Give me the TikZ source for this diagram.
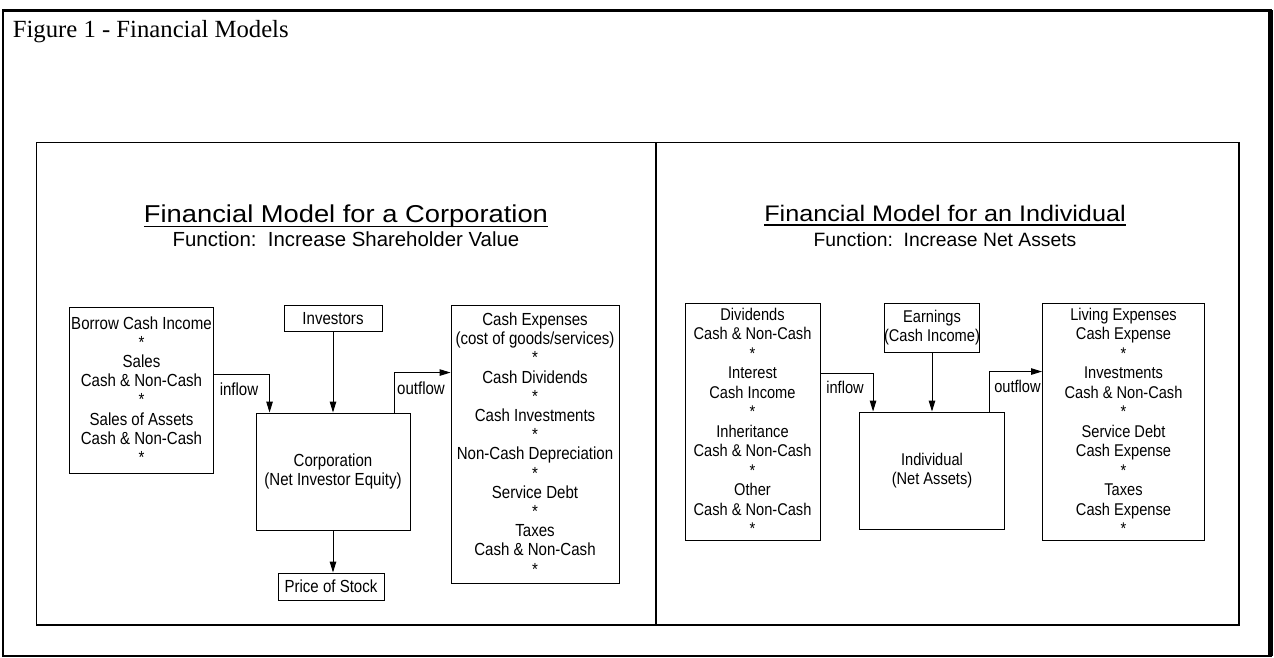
\documentclass[tikz,border=0pt]{standalone}
\usepackage{fontspec}
\setmainfont{Liberation Serif}
\newfontfamily\bodyfont[FakeStretch=0.86]{Liberation Sans}
\newfontfamily\headfont[FakeStretch=1.12]{Liberation Sans}
\newfontfamily\subfont{Liberation Sans}
\usetikzlibrary{arrows.meta}

\begin{document}
\begin{tikzpicture}[x=1pt,y=-1pt,
  box/.style={draw, line width=0.9pt, inner sep=0pt, align=center, anchor=center},
  lfont/.style={font={\bodyfont\fontsize{17.5}{19.2}\selectfont}},
  rfont/.style={font={\bodyfont\fontsize{17}{19.5}\selectfont}},
  flow/.style={line width=1pt, -{Triangle[length=11pt,width=6.5pt]}},
  lbl/.style={inner sep=0pt, anchor=center},
  head/.style={inner sep=0pt, anchor=base},
]
\useasboundingbox (0,0) rectangle (1274,658);
\fill[white] (0,0) rectangle (1274,658);

% outer frame and caption
\draw[line width=2.5pt] (3,10.5) rectangle (1270.5,656);
\draw[line width=4.5pt] (1270.5,10.5) -- (1270.5,656);
\node[inner sep=0pt, anchor=base west, font=\fontsize{24.7}{28}\selectfont] (caption) at (12.7,37.3) {Figure 1 - Financial Models};

% two panels
\draw[line width=1.6pt] (36.5,142.5) rectangle (1239,625);
\draw[line width=1.6pt] (656,142.5) -- (656,625);

% ---------- corporation ----------
\node[head, font={\headfont\fontsize{24.4}{28}\selectfont}] (tL) at (346,222.7) {Financial Model for a Corporation};
\draw[line width=1.4pt] ([yshift=-4pt]tL.base west) -- ([yshift=-4pt]tL.base east);
\node[head, font={\subfont\fontsize{20.4}{24}\selectfont}] (sL) at (346,246) {Function:\ \ Increase Shareholder Value};

\node[box, lfont, minimum width=144pt, minimum height=166pt] (borrow) at (141.5,390)
  {Borrow Cash Income\\*\\Sales\\Cash \& Non-Cash\\*\\Sales of Assets\\Cash \& Non-Cash\\*};
\node[box, lfont, minimum width=98pt, minimum height=26pt] (inv) at (333,318.5) {Investors};
\node[box, lfont, minimum width=154pt, minimum height=117pt] (corp) at (333,471.5)
  {Corporation\\(Net Investor Equity)};
\node[box, lfont, minimum width=106pt, minimum height=27pt] (price) at (331,586.5) {Price of Stock};
\node[box, lfont, minimum width=168pt, minimum height=278pt] (cash) at (535,444)
  {Cash Expenses\\(cost of goods/services)\\*\\Cash Dividends\\*\\Cash Investments\\*\\Non-Cash Depreciation\\*\\Service Debt\\*\\Taxes\\Cash \& Non-Cash\\*};

\draw[flow] ([yshift=-68pt]borrow.north east) -| ([xshift=14pt]corp.north west);
\draw[flow] (inv.south) -- (corp.north);
\draw[flow] (corp.south) -- (corp.south |- price.north);
\draw[flow] ([xshift=-16pt]corp.north east) |- ([yshift=-68pt]cash.north west);
\node[lbl, lfont] (inL) at (239,389) {inflow};
\node[lbl, lfont] (outL) at (421,388) {outflow};

% ---------- individual ----------
\node[head, font={\headfont\fontsize{22.5}{26}\selectfont}] (tR) at (945,221) {Financial Model for an Individual};
\draw[line width=1.4pt] ([yshift=-4pt]tR.base west) -- ([yshift=-4pt]tR.base east);
\node[head, font={\subfont\fontsize{19.3}{23}\selectfont}] (sR) at (945,246.7) {Function:\ \ Increase Net Assets};

\node[box, rfont, minimum width=135pt, minimum height=237pt] (div) at (752.5,421.5)
  {Dividends\\Cash \& Non-Cash\\*\\Interest\\Cash Income\\*\\Inheritance\\Cash \& Non-Cash\\*\\Other\\Cash \& Non-Cash\\*};
\node[box, rfont, minimum width=94pt, minimum height=49pt] (earn) at (932,327.5)
  {Earnings\\(Cash Income)};
\node[box, rfont, minimum width=145pt, minimum height=117pt] (indiv) at (932,470.5)
  {Individual\\(Net Assets)};
\node[box, rfont, minimum width=162pt, minimum height=237pt] (living) at (1123.5,421.5)
  {Living Expenses\\Cash Expense\\*\\Investments\\Cash \& Non-Cash\\*\\Service Debt\\Cash Expense\\*\\Taxes\\Cash Expense\\*};

\draw[flow] ([yshift=-71pt]div.north east) -| ([xshift=14pt]indiv.north west);
\draw[flow] (earn.south) -- (indiv.north);
\draw[flow] ([xshift=-15pt]indiv.north east) |- ([yshift=-69pt]living.north west);
\node[lbl, rfont] (inR) at (845,387) {inflow};
\node[lbl, rfont] (outR) at (1017.5,386) {outflow};
\end{tikzpicture}
\end{document}
